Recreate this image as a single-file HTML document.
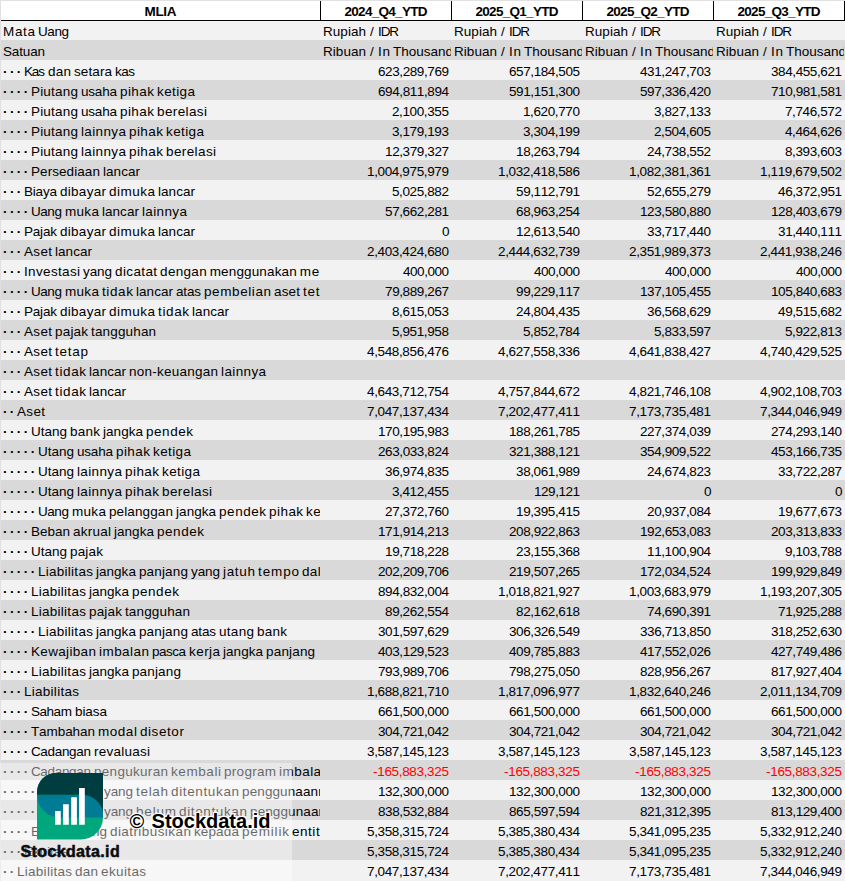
<!DOCTYPE html>
<html lang="id"><head><meta charset="utf-8"><title>MLIA</title>
<style>
*{margin:0;padding:0;box-sizing:border-box}
html,body{width:845px;height:881px;overflow:hidden;background:#fff}
body{position:relative;font-family:"Liberation Sans", sans-serif;font-size:13.5px;color:#000;line-height:23px;font-kerning:none;word-spacing:-0.75px;-webkit-font-smoothing:antialiased}
#sheet{position:absolute;left:0;top:0;width:845px;height:881px;overflow:hidden;background:#fff}
.r{position:absolute;left:0;width:845px;height:20px;background:#f2f2f2}
.g{background:#d9d9d9}
.c{position:absolute;top:0;height:100%;overflow:hidden;white-space:pre}
.a{left:0;width:320px;padding-left:3px}
.n{text-align:right;padding-right:2px}
.t{text-align:left;padding-left:3px}
.b{left:320px;width:131px}.d{left:451px;width:131px}.e{left:582px;width:131px}.f{left:713px;width:131px}
.red{color:#ff0000}
.p{font-weight:bold}
.s{padding-left:1.1px}
.h{position:absolute;top:0;height:20px;text-align:center;font-weight:bold;overflow:hidden;white-space:pre}
.vb{position:absolute;top:1px;width:1px;height:20px;background:#000}
#hw{position:absolute;left:1px;top:1px;width:844px;height:19px;background:#fff}
#hb{position:absolute;left:1px;top:20px;width:844px;height:1px;background:#000}
#gl{position:absolute;left:0;top:0;width:1px;height:881px;background:#e0e0e0}
#gt{position:absolute;left:0;top:0;width:845px;height:1px;background:#e1e1e1}
#ov{position:absolute;left:0;top:763px;width:292px;height:118px;background:rgba(255,255,255,0.4)}
#wm{position:absolute;left:0;top:763px;width:292px;height:118px}
</style></head><body>
<div id="sheet">
<div id="hw"></div>
<div class="h" style="left:1px;width:319px"><span style="letter-spacing:-.33px;margin-right:.33px">MLIA</span></div>
<div class="h" style="left:321px;width:130px"><span style="letter-spacing:-.71px;margin-right:.71px">2024_Q4_YTD</span></div>
<div class="h" style="left:452px;width:130px"><span style="letter-spacing:-.71px;margin-right:.71px">2025_Q1_YTD</span></div>
<div class="h" style="left:583px;width:130px"><span style="letter-spacing:-.71px;margin-right:.71px">2025_Q2_YTD</span></div>
<div class="h" style="left:714px;width:130px"><span style="letter-spacing:-.71px;margin-right:.71px">2025_Q3_YTD</span></div>
<div class="vb" style="left:320px"></div>
<div class="vb" style="left:451px"></div>
<div class="vb" style="left:582px"></div>
<div class="vb" style="left:713px"></div>
<div class="vb" style="left:844px"></div>
<div class="r" style="top:20px"><div class="c a"><span style="letter-spacing:.66px;margin-right:-.66px">Mata</span> <span style="letter-spacing:-.43px;margin-right:.43px">Uang</span></div><div class="c t b"><span style="letter-spacing:.04px;margin-right:-.04px">Rupiah</span> <span class="s" style="letter-spacing:1.14px;margin-right:-1.14px">/ </span><span style="letter-spacing:-1.12px;margin-right:1.12px">IDR</span></div><div class="c t d"><span style="letter-spacing:.04px;margin-right:-.04px">Rupiah</span> <span class="s" style="letter-spacing:1.14px;margin-right:-1.14px">/ </span><span style="letter-spacing:-1.12px;margin-right:1.12px">IDR</span></div><div class="c t e"><span style="letter-spacing:.04px;margin-right:-.04px">Rupiah</span> <span class="s" style="letter-spacing:1.14px;margin-right:-1.14px">/ </span><span style="letter-spacing:-1.12px;margin-right:1.12px">IDR</span></div><div class="c t f"><span style="letter-spacing:.04px;margin-right:-.04px">Rupiah</span> <span class="s" style="letter-spacing:1.14px;margin-right:-1.14px">/ </span><span style="letter-spacing:-1.12px;margin-right:1.12px">IDR</span></div></div>
<div class="r g" style="top:40px"><div class="c a"><span style="letter-spacing:-.16px;margin-right:.16px">Satuan</span></div><div class="c t b"><span style="letter-spacing:.04px;margin-right:-.04px">Ribuan</span> <span class="s" style="letter-spacing:1.14px;margin-right:-1.14px">/ </span><span style="letter-spacing:.73px;margin-right:-.73px">In</span> Thousand</div><div class="c t d"><span style="letter-spacing:.04px;margin-right:-.04px">Ribuan</span> <span class="s" style="letter-spacing:1.14px;margin-right:-1.14px">/ </span><span style="letter-spacing:.73px;margin-right:-.73px">In</span> Thousand</div><div class="c t e"><span style="letter-spacing:.04px;margin-right:-.04px">Ribuan</span> <span class="s" style="letter-spacing:1.14px;margin-right:-1.14px">/ </span><span style="letter-spacing:.73px;margin-right:-.73px">In</span> Thousand</div><div class="c t f"><span style="letter-spacing:.04px;margin-right:-.04px">Ribuan</span> <span class="s" style="letter-spacing:1.14px;margin-right:-1.14px">/ </span><span style="letter-spacing:.73px;margin-right:-.73px">In</span> Thousand</div></div>
<div class="r" style="top:60px"><div class="c a"><span class="p" style="letter-spacing:-.3px;margin-right:.3px">· · · </span><span style="letter-spacing:-1.13px;margin-right:1.13px">Kas</span> <span style="letter-spacing:.23px;margin-right:-.23px">dan</span> <span style="letter-spacing:.09px;margin-right:-.09px">setara</span> <span style="letter-spacing:-.51px;margin-right:.51px">kas</span></div><div class="c n b"><span style="letter-spacing:-.41px;margin-right:.41px">623,289,769</span></div><div class="c n d"><span style="letter-spacing:-.41px;margin-right:.41px">657,184,505</span></div><div class="c n e"><span style="letter-spacing:-.41px;margin-right:.41px">431,247,703</span></div><div class="c n f"><span style="letter-spacing:-.41px;margin-right:.41px">384,455,621</span></div></div>
<div class="r g" style="top:80px"><div class="c a"><span class="p" style="letter-spacing:-.29px;margin-right:.29px">· · · · </span><span style="letter-spacing:.2px;margin-right:-.2px">Piutang</span> <span style="letter-spacing:-.2px;margin-right:.2px">usaha</span> <span style="letter-spacing:.43px;margin-right:-.43px">pihak</span> <span style="letter-spacing:.39px;margin-right:-.39px">ketiga</span></div><div class="c n b"><span style="letter-spacing:-.41px;margin-right:.41px">694,811,894</span></div><div class="c n d"><span style="letter-spacing:-.41px;margin-right:.41px">591,151,300</span></div><div class="c n e"><span style="letter-spacing:-.41px;margin-right:.41px">597,336,420</span></div><div class="c n f"><span style="letter-spacing:-.41px;margin-right:.41px">710,981,581</span></div></div>
<div class="r" style="top:100px"><div class="c a"><span class="p" style="letter-spacing:-.29px;margin-right:.29px">· · · · </span><span style="letter-spacing:.2px;margin-right:-.2px">Piutang</span> <span style="letter-spacing:-.2px;margin-right:.2px">usaha</span> <span style="letter-spacing:.43px;margin-right:-.43px">pihak</span> <span style="letter-spacing:.39px;margin-right:-.39px">berelasi</span></div><div class="c n b"><span style="letter-spacing:-.38px;margin-right:.38px">2,100,355</span></div><div class="c n d"><span style="letter-spacing:-.38px;margin-right:.38px">1,620,770</span></div><div class="c n e"><span style="letter-spacing:-.38px;margin-right:.38px">3,827,133</span></div><div class="c n f"><span style="letter-spacing:-.38px;margin-right:.38px">7,746,572</span></div></div>
<div class="r g" style="top:120px"><div class="c a"><span class="p" style="letter-spacing:-.29px;margin-right:.29px">· · · · </span><span style="letter-spacing:.2px;margin-right:-.2px">Piutang</span> <span style="letter-spacing:.37px;margin-right:-.37px">lainnya</span> <span style="letter-spacing:.43px;margin-right:-.43px">pihak</span> <span style="letter-spacing:.39px;margin-right:-.39px">ketiga</span></div><div class="c n b"><span style="letter-spacing:-.38px;margin-right:.38px">3,179,193</span></div><div class="c n d"><span style="letter-spacing:-.38px;margin-right:.38px">3,304,199</span></div><div class="c n e"><span style="letter-spacing:-.38px;margin-right:.38px">2,504,605</span></div><div class="c n f"><span style="letter-spacing:-.38px;margin-right:.38px">4,464,626</span></div></div>
<div class="r" style="top:140px"><div class="c a"><span class="p" style="letter-spacing:-.29px;margin-right:.29px">· · · · </span><span style="letter-spacing:.2px;margin-right:-.2px">Piutang</span> <span style="letter-spacing:.37px;margin-right:-.37px">lainnya</span> <span style="letter-spacing:.43px;margin-right:-.43px">pihak</span> <span style="letter-spacing:.39px;margin-right:-.39px">berelasi</span></div><div class="c n b"><span style="letter-spacing:-.4px;margin-right:.4px">12,379,327</span></div><div class="c n d"><span style="letter-spacing:-.4px;margin-right:.4px">18,263,794</span></div><div class="c n e"><span style="letter-spacing:-.4px;margin-right:.4px">24,738,552</span></div><div class="c n f"><span style="letter-spacing:-.38px;margin-right:.38px">8,393,603</span></div></div>
<div class="r g" style="top:160px"><div class="c a"><span class="p" style="letter-spacing:-.29px;margin-right:.29px">· · · · </span><span style="letter-spacing:.08px;margin-right:-.08px">Persediaan</span> <span style="letter-spacing:.04px;margin-right:-.04px">lancar</span></div><div class="c n b"><span style="letter-spacing:-.36px;margin-right:.36px">1,004,975,979</span></div><div class="c n d"><span style="letter-spacing:-.36px;margin-right:.36px">1,032,418,586</span></div><div class="c n e"><span style="letter-spacing:-.36px;margin-right:.36px">1,082,381,361</span></div><div class="c n f"><span style="letter-spacing:-.36px;margin-right:.36px">1,119,679,502</span></div></div>
<div class="r" style="top:180px"><div class="c a"><span class="p" style="letter-spacing:-.3px;margin-right:.3px">· · · </span><span style="letter-spacing:-.2px;margin-right:.2px">Biaya</span> <span style="letter-spacing:.29px;margin-right:-.29px">dibayar</span> <span style="letter-spacing:.49px;margin-right:-.49px">dimuka</span> <span style="letter-spacing:.04px;margin-right:-.04px">lancar</span></div><div class="c n b"><span style="letter-spacing:-.38px;margin-right:.38px">5,025,882</span></div><div class="c n d"><span style="letter-spacing:-.4px;margin-right:.4px">59,112,791</span></div><div class="c n e"><span style="letter-spacing:-.4px;margin-right:.4px">52,655,279</span></div><div class="c n f"><span style="letter-spacing:-.4px;margin-right:.4px">46,372,951</span></div></div>
<div class="r g" style="top:200px"><div class="c a"><span class="p" style="letter-spacing:-.29px;margin-right:.29px">· · · · </span><span style="letter-spacing:-.43px;margin-right:.43px">Uang</span> <span style="letter-spacing:.33px;margin-right:-.33px">muka</span> <span style="letter-spacing:.04px;margin-right:-.04px">lancar</span> <span style="letter-spacing:.37px;margin-right:-.37px">lainnya</span></div><div class="c n b"><span style="letter-spacing:-.4px;margin-right:.4px">57,662,281</span></div><div class="c n d"><span style="letter-spacing:-.4px;margin-right:.4px">68,963,254</span></div><div class="c n e"><span style="letter-spacing:-.41px;margin-right:.41px">123,580,880</span></div><div class="c n f"><span style="letter-spacing:-.41px;margin-right:.41px">128,403,679</span></div></div>
<div class="r" style="top:220px"><div class="c a"><span class="p" style="letter-spacing:-.3px;margin-right:.3px">· · · </span><span style="letter-spacing:-.2px;margin-right:.2px">Pajak</span> <span style="letter-spacing:.29px;margin-right:-.29px">dibayar</span> <span style="letter-spacing:.49px;margin-right:-.49px">dimuka</span> <span style="letter-spacing:.04px;margin-right:-.04px">lancar</span></div><div class="c n b"><span style="margin-right:-.52px">0</span></div><div class="c n d"><span style="letter-spacing:-.4px;margin-right:.4px">12,613,540</span></div><div class="c n e"><span style="letter-spacing:-.4px;margin-right:.4px">33,717,440</span></div><div class="c n f"><span style="letter-spacing:-.4px;margin-right:.4px">31,440,111</span></div></div>
<div class="r g" style="top:240px"><div class="c a"><span class="p" style="letter-spacing:-.3px;margin-right:.3px">· · · </span><span style="letter-spacing:.33px;margin-right:-.33px">Aset</span> <span style="letter-spacing:.04px;margin-right:-.04px">lancar</span></div><div class="c n b"><span style="letter-spacing:-.36px;margin-right:.36px">2,403,424,680</span></div><div class="c n d"><span style="letter-spacing:-.36px;margin-right:.36px">2,444,632,739</span></div><div class="c n e"><span style="letter-spacing:-.36px;margin-right:.36px">2,351,989,373</span></div><div class="c n f"><span style="letter-spacing:-.36px;margin-right:.36px">2,441,938,246</span></div></div>
<div class="r" style="top:260px"><div class="c a"><span class="p" style="letter-spacing:-.3px;margin-right:.3px">· · · </span><span style="letter-spacing:.34px;margin-right:-.34px">Investasi</span> <span style="letter-spacing:-.09px;margin-right:.09px">yang</span> <span style="letter-spacing:.37px;margin-right:-.37px">dicatat</span> <span style="letter-spacing:.31px;margin-right:-.31px">dengan</span> <span style="letter-spacing:.14px;margin-right:-.14px">menggunakan</span> <span style="letter-spacing:.79px;margin-right:-.79px">metode</span> <span style="letter-spacing:.37px;margin-right:-.37px">ekuitas</span></div><div class="c n b"><span style="letter-spacing:-.47px;margin-right:.47px">400,000</span></div><div class="c n d"><span style="letter-spacing:-.47px;margin-right:.47px">400,000</span></div><div class="c n e"><span style="letter-spacing:-.47px;margin-right:.47px">400,000</span></div><div class="c n f"><span style="letter-spacing:-.47px;margin-right:.47px">400,000</span></div></div>
<div class="r g" style="top:280px"><div class="c a"><span class="p" style="letter-spacing:-.29px;margin-right:.29px">· · · · </span><span style="letter-spacing:-.43px;margin-right:.43px">Uang</span> <span style="letter-spacing:.33px;margin-right:-.33px">muka</span> <span style="letter-spacing:.62px;margin-right:-.62px">tidak</span> <span style="letter-spacing:.04px;margin-right:-.04px">lancar</span> <span style="letter-spacing:-.18px;margin-right:.18px">atas</span> <span style="letter-spacing:.59px;margin-right:-.59px">pembelian</span> <span style="letter-spacing:.16px;margin-right:-.16px">aset</span> <span style="letter-spacing:.74px;margin-right:-.74px">tetap</span></div><div class="c n b"><span style="letter-spacing:-.4px;margin-right:.4px">79,889,267</span></div><div class="c n d"><span style="letter-spacing:-.4px;margin-right:.4px">99,229,117</span></div><div class="c n e"><span style="letter-spacing:-.41px;margin-right:.41px">137,105,455</span></div><div class="c n f"><span style="letter-spacing:-.41px;margin-right:.41px">105,840,683</span></div></div>
<div class="r" style="top:300px"><div class="c a"><span class="p" style="letter-spacing:-.3px;margin-right:.3px">· · · </span><span style="letter-spacing:-.2px;margin-right:.2px">Pajak</span> <span style="letter-spacing:.29px;margin-right:-.29px">dibayar</span> <span style="letter-spacing:.49px;margin-right:-.49px">dimuka</span> <span style="letter-spacing:.62px;margin-right:-.62px">tidak</span> <span style="letter-spacing:.04px;margin-right:-.04px">lancar</span></div><div class="c n b"><span style="letter-spacing:-.38px;margin-right:.38px">8,615,053</span></div><div class="c n d"><span style="letter-spacing:-.4px;margin-right:.4px">24,804,435</span></div><div class="c n e"><span style="letter-spacing:-.4px;margin-right:.4px">36,568,629</span></div><div class="c n f"><span style="letter-spacing:-.4px;margin-right:.4px">49,515,682</span></div></div>
<div class="r g" style="top:320px"><div class="c a"><span class="p" style="letter-spacing:-.3px;margin-right:.3px">· · · </span><span style="letter-spacing:.33px;margin-right:-.33px">Aset</span> <span style="letter-spacing:.18px;margin-right:-.18px">pajak</span> <span style="letter-spacing:.15px;margin-right:-.15px">tangguhan</span></div><div class="c n b"><span style="letter-spacing:-.38px;margin-right:.38px">5,951,958</span></div><div class="c n d"><span style="letter-spacing:-.38px;margin-right:.38px">5,852,784</span></div><div class="c n e"><span style="letter-spacing:-.38px;margin-right:.38px">5,833,597</span></div><div class="c n f"><span style="letter-spacing:-.38px;margin-right:.38px">5,922,813</span></div></div>
<div class="r" style="top:340px"><div class="c a"><span class="p" style="letter-spacing:-.3px;margin-right:.3px">· · · </span><span style="letter-spacing:.33px;margin-right:-.33px">Aset</span> <span style="letter-spacing:.74px;margin-right:-.74px">tetap</span></div><div class="c n b"><span style="letter-spacing:-.36px;margin-right:.36px">4,548,856,476</span></div><div class="c n d"><span style="letter-spacing:-.36px;margin-right:.36px">4,627,558,336</span></div><div class="c n e"><span style="letter-spacing:-.36px;margin-right:.36px">4,641,838,427</span></div><div class="c n f"><span style="letter-spacing:-.36px;margin-right:.36px">4,740,429,525</span></div></div>
<div class="r g" style="top:360px"><div class="c a" style="width:845px"><span class="p" style="letter-spacing:-.3px;margin-right:.3px">· · · </span><span style="letter-spacing:.33px;margin-right:-.33px">Aset</span> <span style="letter-spacing:.62px;margin-right:-.62px">tidak</span> <span style="letter-spacing:.04px;margin-right:-.04px">lancar</span> <span style="letter-spacing:.24px;margin-right:-.24px">non-keuangan</span> <span style="letter-spacing:.37px;margin-right:-.37px">lainnya</span></div></div>
<div class="r" style="top:380px"><div class="c a"><span class="p" style="letter-spacing:-.3px;margin-right:.3px">· · · </span><span style="letter-spacing:.33px;margin-right:-.33px">Aset</span> <span style="letter-spacing:.62px;margin-right:-.62px">tidak</span> <span style="letter-spacing:.04px;margin-right:-.04px">lancar</span></div><div class="c n b"><span style="letter-spacing:-.36px;margin-right:.36px">4,643,712,754</span></div><div class="c n d"><span style="letter-spacing:-.36px;margin-right:.36px">4,757,844,672</span></div><div class="c n e"><span style="letter-spacing:-.36px;margin-right:.36px">4,821,746,108</span></div><div class="c n f"><span style="letter-spacing:-.36px;margin-right:.36px">4,902,108,703</span></div></div>
<div class="r g" style="top:400px"><div class="c a"><span class="p" style="letter-spacing:-.33px;margin-right:.33px">· · </span><span style="letter-spacing:.33px;margin-right:-.33px">Aset</span></div><div class="c n b"><span style="letter-spacing:-.36px;margin-right:.36px">7,047,137,434</span></div><div class="c n d"><span style="letter-spacing:-.36px;margin-right:.36px">7,202,477,411</span></div><div class="c n e"><span style="letter-spacing:-.36px;margin-right:.36px">7,173,735,481</span></div><div class="c n f"><span style="letter-spacing:-.36px;margin-right:.36px">7,344,046,949</span></div></div>
<div class="r" style="top:420px"><div class="c a"><span class="p" style="letter-spacing:-.29px;margin-right:.29px">· · · · </span>Utang <span style="letter-spacing:.24px;margin-right:-.24px">bank</span> <span style="letter-spacing:.04px;margin-right:-.04px">jangka</span> <span style="letter-spacing:.54px;margin-right:-.54px">pendek</span></div><div class="c n b"><span style="letter-spacing:-.41px;margin-right:.41px">170,195,983</span></div><div class="c n d"><span style="letter-spacing:-.41px;margin-right:.41px">188,261,785</span></div><div class="c n e"><span style="letter-spacing:-.41px;margin-right:.41px">227,374,039</span></div><div class="c n f"><span style="letter-spacing:-.41px;margin-right:.41px">274,293,140</span></div></div>
<div class="r g" style="top:440px"><div class="c a"><span class="p" style="letter-spacing:-.28px;margin-right:.28px">· · · · · </span>Utang <span style="letter-spacing:-.2px;margin-right:.2px">usaha</span> <span style="letter-spacing:.43px;margin-right:-.43px">pihak</span> <span style="letter-spacing:.39px;margin-right:-.39px">ketiga</span></div><div class="c n b"><span style="letter-spacing:-.41px;margin-right:.41px">263,033,824</span></div><div class="c n d"><span style="letter-spacing:-.41px;margin-right:.41px">321,388,121</span></div><div class="c n e"><span style="letter-spacing:-.41px;margin-right:.41px">354,909,522</span></div><div class="c n f"><span style="letter-spacing:-.41px;margin-right:.41px">453,166,735</span></div></div>
<div class="r" style="top:460px"><div class="c a"><span class="p" style="letter-spacing:-.28px;margin-right:.28px">· · · · · </span>Utang <span style="letter-spacing:.37px;margin-right:-.37px">lainnya</span> <span style="letter-spacing:.43px;margin-right:-.43px">pihak</span> <span style="letter-spacing:.39px;margin-right:-.39px">ketiga</span></div><div class="c n b"><span style="letter-spacing:-.4px;margin-right:.4px">36,974,835</span></div><div class="c n d"><span style="letter-spacing:-.4px;margin-right:.4px">38,061,989</span></div><div class="c n e"><span style="letter-spacing:-.4px;margin-right:.4px">24,674,823</span></div><div class="c n f"><span style="letter-spacing:-.4px;margin-right:.4px">33,722,287</span></div></div>
<div class="r g" style="top:480px"><div class="c a"><span class="p" style="letter-spacing:-.28px;margin-right:.28px">· · · · · </span>Utang <span style="letter-spacing:.37px;margin-right:-.37px">lainnya</span> <span style="letter-spacing:.43px;margin-right:-.43px">pihak</span> <span style="letter-spacing:.39px;margin-right:-.39px">berelasi</span></div><div class="c n b"><span style="letter-spacing:-.38px;margin-right:.38px">3,412,455</span></div><div class="c n d"><span style="letter-spacing:-.47px;margin-right:.47px">129,121</span></div><div class="c n e"><span style="margin-right:-.52px">0</span></div><div class="c n f"><span style="margin-right:-.52px">0</span></div></div>
<div class="r" style="top:500px"><div class="c a"><span class="p" style="letter-spacing:-.28px;margin-right:.28px">· · · · · </span><span style="letter-spacing:-.43px;margin-right:.43px">Uang</span> <span style="letter-spacing:.33px;margin-right:-.33px">muka</span> <span style="letter-spacing:.12px;margin-right:-.12px">pelanggan</span> <span style="letter-spacing:.04px;margin-right:-.04px">jangka</span> <span style="letter-spacing:.54px;margin-right:-.54px">pendek</span> <span style="letter-spacing:.43px;margin-right:-.43px">pihak</span> <span style="letter-spacing:.39px;margin-right:-.39px">ketiga</span></div><div class="c n b"><span style="letter-spacing:-.4px;margin-right:.4px">27,372,760</span></div><div class="c n d"><span style="letter-spacing:-.4px;margin-right:.4px">19,395,415</span></div><div class="c n e"><span style="letter-spacing:-.4px;margin-right:.4px">20,937,084</span></div><div class="c n f"><span style="letter-spacing:-.4px;margin-right:.4px">19,677,673</span></div></div>
<div class="r g" style="top:520px"><div class="c a"><span class="p" style="letter-spacing:-.29px;margin-right:.29px">· · · · </span><span style="letter-spacing:-.01px;margin-right:.01px">Beban</span> <span style="letter-spacing:.24px;margin-right:-.24px">akrual</span> <span style="letter-spacing:.04px;margin-right:-.04px">jangka</span> <span style="letter-spacing:.54px;margin-right:-.54px">pendek</span></div><div class="c n b"><span style="letter-spacing:-.41px;margin-right:.41px">171,914,213</span></div><div class="c n d"><span style="letter-spacing:-.41px;margin-right:.41px">208,922,863</span></div><div class="c n e"><span style="letter-spacing:-.41px;margin-right:.41px">192,653,083</span></div><div class="c n f"><span style="letter-spacing:-.41px;margin-right:.41px">203,313,833</span></div></div>
<div class="r" style="top:540px"><div class="c a"><span class="p" style="letter-spacing:-.29px;margin-right:.29px">· · · · </span>Utang <span style="letter-spacing:.18px;margin-right:-.18px">pajak</span></div><div class="c n b"><span style="letter-spacing:-.4px;margin-right:.4px">19,718,228</span></div><div class="c n d"><span style="letter-spacing:-.4px;margin-right:.4px">23,155,368</span></div><div class="c n e"><span style="letter-spacing:-.4px;margin-right:.4px">11,100,904</span></div><div class="c n f"><span style="letter-spacing:-.38px;margin-right:.38px">9,103,788</span></div></div>
<div class="r g" style="top:560px"><div class="c a"><span class="p" style="letter-spacing:-.28px;margin-right:.28px">· · · · · </span><span style="letter-spacing:.27px;margin-right:-.27px">Liabilitas</span> <span style="letter-spacing:.04px;margin-right:-.04px">jangka</span> <span style="letter-spacing:.16px;margin-right:-.16px">panjang</span> <span style="letter-spacing:-.09px;margin-right:.09px">yang</span> <span style="letter-spacing:.68px;margin-right:-.68px">jatuh</span> <span style="letter-spacing:.87px;margin-right:-.87px">tempo</span> <span style="letter-spacing:.3px;margin-right:-.3px">dalam</span> <span style="letter-spacing:.16px;margin-right:-.16px">satu</span> <span style="letter-spacing:.55px;margin-right:-.55px">tahun</span> <span style="letter-spacing:-.18px;margin-right:.18px">atas</span> <span style="letter-spacing:.3px;margin-right:-.3px">utang</span> <span style="letter-spacing:.24px;margin-right:-.24px">bank</span></div><div class="c n b"><span style="letter-spacing:-.41px;margin-right:.41px">202,209,706</span></div><div class="c n d"><span style="letter-spacing:-.41px;margin-right:.41px">219,507,265</span></div><div class="c n e"><span style="letter-spacing:-.41px;margin-right:.41px">172,034,524</span></div><div class="c n f"><span style="letter-spacing:-.41px;margin-right:.41px">199,929,849</span></div></div>
<div class="r" style="top:580px"><div class="c a"><span class="p" style="letter-spacing:-.29px;margin-right:.29px">· · · · </span><span style="letter-spacing:.27px;margin-right:-.27px">Liabilitas</span> <span style="letter-spacing:.04px;margin-right:-.04px">jangka</span> <span style="letter-spacing:.54px;margin-right:-.54px">pendek</span></div><div class="c n b"><span style="letter-spacing:-.41px;margin-right:.41px">894,832,004</span></div><div class="c n d"><span style="letter-spacing:-.36px;margin-right:.36px">1,018,821,927</span></div><div class="c n e"><span style="letter-spacing:-.36px;margin-right:.36px">1,003,683,979</span></div><div class="c n f"><span style="letter-spacing:-.36px;margin-right:.36px">1,193,207,305</span></div></div>
<div class="r g" style="top:600px"><div class="c a"><span class="p" style="letter-spacing:-.29px;margin-right:.29px">· · · · </span><span style="letter-spacing:.27px;margin-right:-.27px">Liabilitas</span> <span style="letter-spacing:.18px;margin-right:-.18px">pajak</span> <span style="letter-spacing:.15px;margin-right:-.15px">tangguhan</span></div><div class="c n b"><span style="letter-spacing:-.4px;margin-right:.4px">89,262,554</span></div><div class="c n d"><span style="letter-spacing:-.4px;margin-right:.4px">82,162,618</span></div><div class="c n e"><span style="letter-spacing:-.4px;margin-right:.4px">74,690,391</span></div><div class="c n f"><span style="letter-spacing:-.4px;margin-right:.4px">71,925,288</span></div></div>
<div class="r" style="top:620px"><div class="c a"><span class="p" style="letter-spacing:-.28px;margin-right:.28px">· · · · · </span><span style="letter-spacing:.27px;margin-right:-.27px">Liabilitas</span> <span style="letter-spacing:.04px;margin-right:-.04px">jangka</span> <span style="letter-spacing:.16px;margin-right:-.16px">panjang</span> <span style="letter-spacing:-.18px;margin-right:.18px">atas</span> <span style="letter-spacing:.3px;margin-right:-.3px">utang</span> <span style="letter-spacing:.24px;margin-right:-.24px">bank</span></div><div class="c n b"><span style="letter-spacing:-.41px;margin-right:.41px">301,597,629</span></div><div class="c n d"><span style="letter-spacing:-.41px;margin-right:.41px">306,326,549</span></div><div class="c n e"><span style="letter-spacing:-.41px;margin-right:.41px">336,713,850</span></div><div class="c n f"><span style="letter-spacing:-.41px;margin-right:.41px">318,252,630</span></div></div>
<div class="r g" style="top:640px"><div class="c a"><span class="p" style="letter-spacing:-.29px;margin-right:.29px">· · · · </span><span style="letter-spacing:.34px;margin-right:-.34px">Kewajiban</span> <span style="letter-spacing:.45px;margin-right:-.45px">imbalan</span> <span style="letter-spacing:-.51px;margin-right:.51px">pasca</span> <span style="letter-spacing:.43px;margin-right:-.43px">kerja</span> <span style="letter-spacing:.04px;margin-right:-.04px">jangka</span> <span style="letter-spacing:.16px;margin-right:-.16px">panjang</span></div><div class="c n b"><span style="letter-spacing:-.41px;margin-right:.41px">403,129,523</span></div><div class="c n d"><span style="letter-spacing:-.41px;margin-right:.41px">409,785,883</span></div><div class="c n e"><span style="letter-spacing:-.41px;margin-right:.41px">417,552,026</span></div><div class="c n f"><span style="letter-spacing:-.41px;margin-right:.41px">427,749,486</span></div></div>
<div class="r" style="top:660px"><div class="c a"><span class="p" style="letter-spacing:-.29px;margin-right:.29px">· · · · </span><span style="letter-spacing:.27px;margin-right:-.27px">Liabilitas</span> <span style="letter-spacing:.04px;margin-right:-.04px">jangka</span> <span style="letter-spacing:.16px;margin-right:-.16px">panjang</span></div><div class="c n b"><span style="letter-spacing:-.41px;margin-right:.41px">793,989,706</span></div><div class="c n d"><span style="letter-spacing:-.41px;margin-right:.41px">798,275,050</span></div><div class="c n e"><span style="letter-spacing:-.41px;margin-right:.41px">828,956,267</span></div><div class="c n f"><span style="letter-spacing:-.41px;margin-right:.41px">817,927,404</span></div></div>
<div class="r g" style="top:680px"><div class="c a"><span class="p" style="letter-spacing:-.3px;margin-right:.3px">· · · </span><span style="letter-spacing:.27px;margin-right:-.27px">Liabilitas</span></div><div class="c n b"><span style="letter-spacing:-.36px;margin-right:.36px">1,688,821,710</span></div><div class="c n d"><span style="letter-spacing:-.36px;margin-right:.36px">1,817,096,977</span></div><div class="c n e"><span style="letter-spacing:-.36px;margin-right:.36px">1,832,640,246</span></div><div class="c n f"><span style="letter-spacing:-.36px;margin-right:.36px">2,011,134,709</span></div></div>
<div class="r" style="top:700px"><div class="c a"><span class="p" style="letter-spacing:-.29px;margin-right:.29px">· · · · </span><span style="letter-spacing:-.45px;margin-right:.45px">Saham</span> <span style="letter-spacing:-.07px;margin-right:.07px">biasa</span></div><div class="c n b"><span style="letter-spacing:-.41px;margin-right:.41px">661,500,000</span></div><div class="c n d"><span style="letter-spacing:-.41px;margin-right:.41px">661,500,000</span></div><div class="c n e"><span style="letter-spacing:-.41px;margin-right:.41px">661,500,000</span></div><div class="c n f"><span style="letter-spacing:-.41px;margin-right:.41px">661,500,000</span></div></div>
<div class="r g" style="top:720px"><div class="c a"><span class="p" style="letter-spacing:-.29px;margin-right:.29px">· · · · </span><span style="letter-spacing:-.08px;margin-right:.08px">Tambahan</span> <span style="letter-spacing:.55px;margin-right:-.55px">modal</span> <span style="letter-spacing:.58px;margin-right:-.58px">disetor</span></div><div class="c n b"><span style="letter-spacing:-.41px;margin-right:.41px">304,721,042</span></div><div class="c n d"><span style="letter-spacing:-.41px;margin-right:.41px">304,721,042</span></div><div class="c n e"><span style="letter-spacing:-.41px;margin-right:.41px">304,721,042</span></div><div class="c n f"><span style="letter-spacing:-.41px;margin-right:.41px">304,721,042</span></div></div>
<div class="r" style="top:740px"><div class="c a"><span class="p" style="letter-spacing:-.29px;margin-right:.29px">· · · · </span><span style="letter-spacing:-.33px;margin-right:.33px">Cadangan</span> <span style="letter-spacing:.25px;margin-right:-.25px">revaluasi</span></div><div class="c n b"><span style="letter-spacing:-.36px;margin-right:.36px">3,587,145,123</span></div><div class="c n d"><span style="letter-spacing:-.36px;margin-right:.36px">3,587,145,123</span></div><div class="c n e"><span style="letter-spacing:-.36px;margin-right:.36px">3,587,145,123</span></div><div class="c n f"><span style="letter-spacing:-.36px;margin-right:.36px">3,587,145,123</span></div></div>
<div class="r g" style="top:760px"><div class="c a"><span class="p" style="letter-spacing:-.29px;margin-right:.29px">· · · · </span><span style="letter-spacing:-.33px;margin-right:.33px">Cadangan</span> <span style="letter-spacing:.3px;margin-right:-.3px">pengukuran</span> <span style="letter-spacing:.58px;margin-right:-.58px">kembali</span> <span style="letter-spacing:.29px;margin-right:-.29px">program</span> <span style="letter-spacing:.45px;margin-right:-.45px">imbalan</span> <span style="letter-spacing:.37px;margin-right:-.37px">pasti</span></div><div class="c n red b"><span style="letter-spacing:-.33px;margin-right:.33px">-165,883,325</span></div><div class="c n red d"><span style="letter-spacing:-.33px;margin-right:.33px">-165,883,325</span></div><div class="c n red e"><span style="letter-spacing:-.33px;margin-right:.33px">-165,883,325</span></div><div class="c n red f"><span style="letter-spacing:-.33px;margin-right:.33px">-165,883,325</span></div></div>
<div class="r" style="top:780px"><div class="c a"><span class="p" style="letter-spacing:-.28px;margin-right:.28px">· · · · · </span><span style="letter-spacing:-.13px;margin-right:.13px">Saldo</span> <span style="letter-spacing:.16px;margin-right:-.16px">laba</span> <span style="letter-spacing:-.09px;margin-right:.09px">yang</span> <span style="letter-spacing:.68px;margin-right:-.68px">telah</span> <span style="letter-spacing:.63px;margin-right:-.63px">ditentukan</span> <span style="letter-spacing:.1px;margin-right:-.1px">penggunaannya</span></div><div class="c n b"><span style="letter-spacing:-.41px;margin-right:.41px">132,300,000</span></div><div class="c n d"><span style="letter-spacing:-.41px;margin-right:.41px">132,300,000</span></div><div class="c n e"><span style="letter-spacing:-.41px;margin-right:.41px">132,300,000</span></div><div class="c n f"><span style="letter-spacing:-.41px;margin-right:.41px">132,300,000</span></div></div>
<div class="r g" style="top:800px"><div class="c a"><span class="p" style="letter-spacing:-.28px;margin-right:.28px">· · · · · </span><span style="letter-spacing:-.13px;margin-right:.13px">Saldo</span> <span style="letter-spacing:.16px;margin-right:-.16px">laba</span> <span style="letter-spacing:-.09px;margin-right:.09px">yang</span> <span style="letter-spacing:.8px;margin-right:-.8px">belum</span> <span style="letter-spacing:.63px;margin-right:-.63px">ditentukan</span> <span style="letter-spacing:.1px;margin-right:-.1px">penggunaannya</span></div><div class="c n b"><span style="letter-spacing:-.41px;margin-right:.41px">838,532,884</span></div><div class="c n d"><span style="letter-spacing:-.41px;margin-right:.41px">865,597,594</span></div><div class="c n e"><span style="letter-spacing:-.41px;margin-right:.41px">821,312,395</span></div><div class="c n f"><span style="letter-spacing:-.41px;margin-right:.41px">813,129,400</span></div></div>
<div class="r" style="top:820px"><div class="c a"><span class="p" style="letter-spacing:-.29px;margin-right:.29px">· · · · </span><span style="letter-spacing:-.05px;margin-right:.05px">Ekuitas</span> <span style="letter-spacing:-.09px;margin-right:.09px">yang</span> <span style="letter-spacing:.43px;margin-right:-.43px">diatribusikan</span> <span style="letter-spacing:.14px;margin-right:-.14px">kepada</span> <span style="letter-spacing:.83px;margin-right:-.83px">pemilik</span> <span style="letter-spacing:.54px;margin-right:-.54px">entitas</span> <span style="letter-spacing:.68px;margin-right:-.68px">induk</span></div><div class="c n b"><span style="letter-spacing:-.36px;margin-right:.36px">5,358,315,724</span></div><div class="c n d"><span style="letter-spacing:-.36px;margin-right:.36px">5,385,380,434</span></div><div class="c n e"><span style="letter-spacing:-.36px;margin-right:.36px">5,341,095,235</span></div><div class="c n f"><span style="letter-spacing:-.36px;margin-right:.36px">5,332,912,240</span></div></div>
<div class="r g" style="top:840px"><div class="c a"><span class="p" style="letter-spacing:-.3px;margin-right:.3px">· · · </span><span style="letter-spacing:-.05px;margin-right:.05px">Ekuitas</span></div><div class="c n b"><span style="letter-spacing:-.36px;margin-right:.36px">5,358,315,724</span></div><div class="c n d"><span style="letter-spacing:-.36px;margin-right:.36px">5,385,380,434</span></div><div class="c n e"><span style="letter-spacing:-.36px;margin-right:.36px">5,341,095,235</span></div><div class="c n f"><span style="letter-spacing:-.36px;margin-right:.36px">5,332,912,240</span></div></div>
<div class="r" style="top:860px;height:21px"><div class="c a"><span class="p" style="letter-spacing:-.33px;margin-right:.33px">· · </span><span style="letter-spacing:.27px;margin-right:-.27px">Liabilitas</span> <span style="letter-spacing:.23px;margin-right:-.23px">dan</span> <span style="letter-spacing:.37px;margin-right:-.37px">ekuitas</span></div><div class="c n b"><span style="letter-spacing:-.36px;margin-right:.36px">7,047,137,434</span></div><div class="c n d"><span style="letter-spacing:-.36px;margin-right:.36px">7,202,477,411</span></div><div class="c n e"><span style="letter-spacing:-.36px;margin-right:.36px">7,173,735,481</span></div><div class="c n f"><span style="letter-spacing:-.36px;margin-right:.36px">7,344,046,949</span></div></div>
<div id="hb"></div><div id="gl"></div><div id="gt"></div>
<div id="ov"></div>
<svg id="wm" viewBox="0 763 292 118">
<g transform="translate(37,773)">
<path d="M0 19A19 19 0 0 1 19 0H66V44.5A22 22 0 0 1 44 66.5H0Z" fill="#00a77c"/>
<path d="M0 21.8H44.2A22.7 22.7 0 0 1 66 38.2V44.5H22.7A22.7 22.7 0 0 1 0 21.8Z" fill="#007b96"/>
<path d="M0 19A19 19 0 0 1 19 0H66V38.2A22.7 22.7 0 0 0 44.2 21.8H0Z" fill="#003d40"/>
<path d="M18.1 37.9h5.7v13.8h-5.7zM26.1 31.3h5.7v20.4h-5.7zM34.2 24.2h5.7v27.5h-5.7zM42.1 15h5.7v36.7h-5.7z" fill="#fff"/>
</g>
<text x="20.5" y="856.6" font-family="Liberation Sans, sans-serif" font-weight="bold" font-size="16" letter-spacing="0.37" fill="#0c0c0c" stroke="#0c0c0c" stroke-width="0.5">Stockdata.id</text>
<text x="129.5" y="827.5" font-family="Liberation Sans, sans-serif" font-weight="bold" font-size="20" fill="#000" stroke="#fff" stroke-width="2.6" stroke-linejoin="round" paint-order="stroke">© <tspan dx="2.5">Stockdata.id</tspan></text>
</svg>
</div></body></html>
